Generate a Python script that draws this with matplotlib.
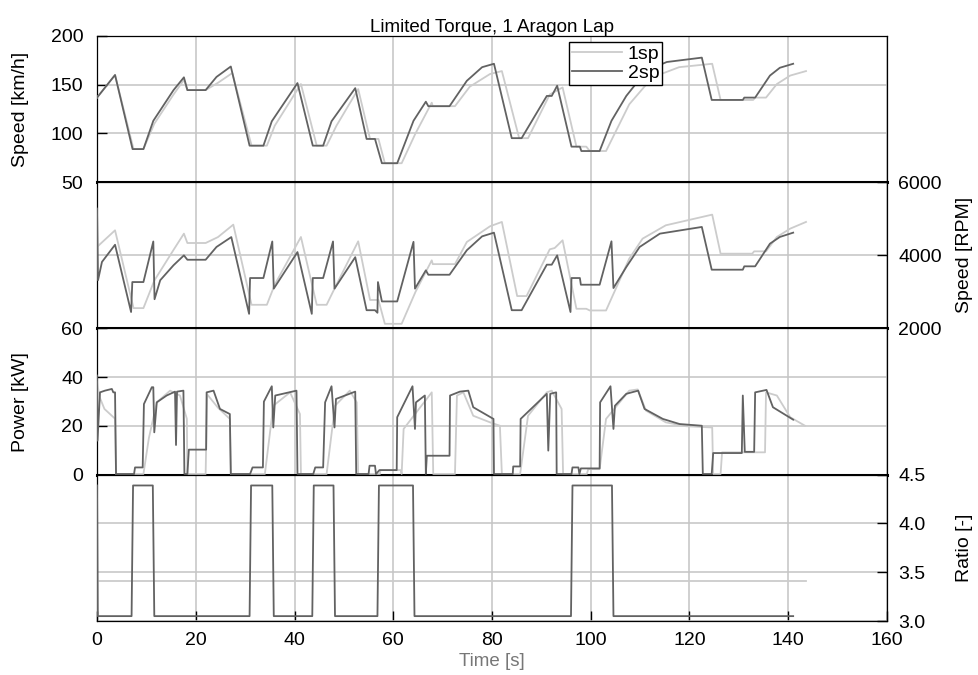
import matplotlib
matplotlib.use("Agg")
import matplotlib.pyplot as plt
import numpy as np

plt.rcParams['font.family'] = ['Liberation Sans', 'DejaVu Sans']
plt.rcParams['font.size'] = 14

# vehicle speed [km/h]
t_v1 = [0, 3.65, 7.4, 9.4, 11.6, 15.5, 17.6, 18.3, 22.0, 24.5, 27.4, 31.3, 34.4, 36.0,
        41.3, 44.5, 46.5, 48.5, 52.9, 55.3, 57.0, 58.3, 61.7, 64.5, 67.8, 68.0, 72.5,
        75.5, 79.6, 82.0, 85.5, 87.3, 91.7, 94.3, 97.1, 99.1, 99.8, 103.1, 107.8, 112.5,
        117.9, 124.6, 126.3, 132.9, 133.3, 135.5, 137.7, 140.4, 143.6]
v_1sp = [136.8, 160, 84, 84, 110, 140, 155, 144.5, 144.5, 152, 162, 87.5, 87.5, 108,
         150.7, 87.5, 87.5, 108, 145.5, 94.4, 94.4, 69.5, 69.5, 100, 131.6, 128, 128,
         148, 161, 164, 95.2, 95.2, 140, 147.2, 86.5, 86.5, 82, 82, 129.9, 157.6,
         168, 171.5, 134.4, 134.4, 136.8, 136.8, 150.7, 159.4, 164]
t_v2 = [0, 3.65, 7.2, 9.4, 11.4, 15.5, 17.6, 18.3, 22.0, 24.2, 27.1, 30.9, 33.7, 35.4,
        40.6, 43.7, 45.8, 47.5, 52.3, 54.6, 56.3, 57.7, 60.8, 64.1, 66.6, 67.1, 71.4,
        74.9, 78.0, 80.4, 84.0, 86.0, 91.1, 92.1, 93.2, 96.1, 97.8, 98.1, 101.8, 104.2,
        107.2, 111.3, 115.4, 122.5, 124.5, 130.8, 131.1, 133.3, 136.3, 138.3, 141.0]
v_2sp = [136.8, 160, 84, 84, 113, 144.5, 157.6, 144.5, 144.5, 158, 168.7, 87.5, 87.5, 112.5,
         151.7, 87.5, 87.5, 112.5, 146.5, 94.4, 94.4, 69.5, 69.5, 113, 132.6, 128, 128,
         154, 168, 171.5, 95.2, 95.2, 138.5, 138.5, 149, 86.5, 86.5, 82, 82, 113,
         138.5, 164.6, 173.3, 177.8, 134.4, 134.4, 136.8, 136.8, 159.4, 167.4, 171.5]

# motor speed [RPM]
t_n1 = [0, 3.65, 7.4, 9.4, 11.6, 15.5, 17.6, 18.3, 22.0, 24.5, 27.6, 31.3, 34.4, 36.0,
        41.3, 44.5, 46.5, 48.5, 52.9, 55.3, 57.0, 58.3, 61.7, 64.5, 67.8, 68.0, 72.5,
        74.9, 79.6, 82.0, 85.1, 87.0, 91.7, 92.7, 94.3, 97.1, 99.1, 99.8, 103.1, 107.8,
        110.5, 115.2, 124.6, 126.3, 132.7, 133.1, 135.5, 137.7, 140.4, 143.6]
n_1sp = [4230, 4685, 2557, 2557, 3310, 4150, 4594, 4338, 4338, 4500, 4840, 2648, 2648, 3200,
         4503, 2648, 2648, 3200, 4384, 2780, 2780, 2128, 2128, 3000, 3864, 3760, 3760,
         4366, 4795, 4914, 2887, 2887, 4165, 4201, 4412, 2539, 2539, 2493, 2493, 3909,
         4457, 4822, 5114, 4046, 4046, 4110, 4110, 4503, 4731, 4914]
t_n2 = [0, 0.2, 1.0, 3.65, 6.9, 7.15, 9.4, 11.4, 11.65, 12.8, 15.5, 17.6, 18.3, 22.0,
        24.2, 27.2, 30.8, 31.0, 33.7, 35.5, 35.8, 40.6, 43.5, 43.7, 45.8, 47.8, 48.1,
        52.3, 54.6, 56.3, 56.8, 56.9, 57.7, 60.8, 64.1, 64.4, 66.6, 67.1, 71.4, 74.9,
        78.0, 80.4, 84.0, 86.0, 91.1, 92.1, 93.2, 95.9, 96.1, 97.8, 98.0, 101.8, 104.2,
        104.6, 107.2, 109.9, 114.0, 122.5, 124.5, 130.8, 131.1, 133.3, 136.3, 138.3, 141.0]
n_2sp = [5280, 3320, 3820, 4290, 2450, 3270, 3270, 4380, 2800, 3320, 3730, 4000, 3880, 3880,
         4230, 4500, 2400, 3380, 3380, 4380, 3090, 4090, 2400, 3380, 3380, 4380, 3090,
         3950, 2500, 2500, 2430, 3270, 2740, 2740, 4370, 3090, 3590, 3470, 3470, 4140,
         4520, 4621, 2500, 2500, 3745, 3745, 4000, 2450, 3380, 3380, 3197, 3197, 4384,
         3106, 3681, 4229, 4594, 4777, 3608, 3608, 3700, 3700, 4320, 4503, 4621]

# motor power [kW]
t_p1 = [0, 0.5, 1.5, 3.65, 3.85, 9.4, 10.5, 12.1, 14.8, 16.8, 18.2, 18.3, 22.0, 22.3,
        24.5, 26.9, 27.1, 34.0, 35.7, 39.1, 41.1, 41.3, 46.5, 48.2, 51.2, 52.6, 52.9,
        57.3, 57.4, 61.5, 61.7, 62.1, 67.8, 68.1, 72.5, 72.9, 74.2, 76.2, 79.6, 81.6,
        82.0, 85.7, 87.3, 91.1, 92.1, 94.1, 94.4, 99.2, 99.5, 101.8, 103.1, 107.8,
        109.5, 111.2, 115.2, 119.3, 124.6, 124.8, 126.3, 126.6, 135.3, 135.5, 137.7,
        140.4, 143.4]
p_1sp = [38, 32, 27, 23, 0.3, 0.3, 15, 29.7, 34.5, 32.5, 22.9, 0.3, 0.3, 33,
         27.5, 22.9, 0.3, 0.3, 28.3, 33.8, 24.9, 0.3, 0.3, 28.3, 34.5, 29.7, 0.3,
         0.3, 1.9, 1.9, 0.3, 18.8, 33.8, 0.3, 0.3, 32.5, 33.8, 24.2, 21.5, 20.1,
         0.3, 0.3, 24.2, 33.8, 34.5, 27, 0.3, 0.3, 2.3, 2.3, 22.9, 34.5,
         35, 26.3, 21.5, 19.9, 19.4, 0.3, 0.3, 9.2, 9.2, 33.8, 32.5,
         23.6, 20.1]
t_p2 = [0, 0.1, 0.6, 1.6, 3.0, 3.3, 3.65, 3.85, 7.5, 7.7, 9.25, 9.5, 11.1, 11.4, 11.6,
        12.1, 14.1, 15.8, 16.0, 16.2, 17.5, 17.7, 18.3, 18.6, 22.1, 22.2, 23.6, 24.9,
        26.9, 27.1, 31.0, 31.5, 33.6, 33.8, 35.4, 35.7, 36.1, 40.4, 40.6, 43.8, 44.2,
        45.8, 46.2, 47.5, 48.1, 48.4, 52.3, 52.5, 55.0, 55.2, 56.3, 56.5, 57.2, 60.7,
        60.8, 63.9, 64.4, 64.6, 66.4, 66.6, 66.8, 71.4, 71.5, 73.5, 75.2, 76.2, 80.3,
        80.4, 84.2, 84.3, 85.7, 85.8, 91.1, 91.4, 91.8, 93.0, 93.1, 96.1, 96.3, 97.5,
        97.7, 98.0, 101.8, 101.9, 104.0, 104.6, 104.9, 107.2, 109.6, 110.9, 114.6,
        118.0, 122.5, 122.7, 124.5, 124.8, 130.6, 130.8, 131.2, 133.1, 133.3, 135.6,
        136.9, 141.0]
p_2sp = [40.7, 14, 33.8, 34.5, 35.2, 33.8, 33.8, 0.3, 0.3, 3.0, 3.0, 29, 35.9, 35.9, 17.4,
         29.7, 32.5, 34.1, 12.2, 34.1, 34.5, 0.3, 0.3, 10.3, 10.3, 33.8, 34.5, 27,
         24.9, 0.3, 0.3, 3.0, 3.0, 30, 36.3, 19.4, 32.5, 34.5, 0.3, 0.3, 3.0,
         3.0, 29.7, 36.3, 19.4, 31.1, 34.1, 0.3, 0.3, 3.7, 3.7, 0.3, 1.9, 1.9,
         23.6, 36.3, 18.8, 29.7, 32.5, 0.3, 7.8, 7.8, 32.5, 34.1, 34.5, 27.7, 22.9,
         0.3, 0.3, 3.4, 3.4, 22.9, 33.2, 9.9, 33.2, 33.8, 0.3, 0.3, 3.0, 3.0,
         0.3, 2.6, 2.6, 29.7, 36.3, 18.8, 28.3, 33.2, 34.5, 27, 22.9,
         20.8, 20.1, 0.3, 0.3, 8.9, 8.9, 32.5, 9.4, 9.4, 33.8, 34.8,
         27.7, 22.6]

# gear ratio [-]
t_r1 = [0, 143.6]
r_1sp = [3.41, 3.41]
t_r2 = [0, 0.15, 7.0, 7.3, 11.3, 11.6, 30.9, 31.2, 35.5, 35.8, 43.6, 43.9, 47.9, 48.2,
        56.8, 57.1, 64.0, 64.3, 96.0, 96.3, 104.3, 104.6, 141.0]
r_2sp = [4.39, 3.05, 3.05, 4.39, 4.39, 3.05, 3.05, 4.39, 4.39, 3.05, 3.05, 4.39, 4.39, 3.05,
         3.05, 4.39, 4.39, 3.05, 3.05, 4.39, 4.39, 3.05, 3.05]

c1 = '#cccccc'
c2 = '#626262'
gridc = '#c4c4c4'

fig, axs = plt.subplots(4, 1, sharex=True, figsize=(9.79, 6.75), dpi=100,
                        gridspec_kw=dict(hspace=0, left=0.0991, right=0.906,
                                         top=0.9467, bottom=0.08))

panels = [
    (t_v1, v_1sp, t_v2, v_2sp, (50, 200), [50, 100, 150, 200], None, 'Speed [km/h]', 'left'),
    (t_n1, n_1sp, t_n2, n_2sp, (2000, 6000), [2000, 4000, 6000], None, 'Speed [RPM]', 'right'),
    (t_p1, p_1sp, t_p2, p_2sp, (0, 60), [0, 20, 40, 60], None, 'Power [kW]', 'left'),
    (t_r1, r_1sp, t_r2, r_2sp, (3.0, 4.5), [3.0, 3.5, 4.0, 4.5], ['3.0', '3.5', '4.0', '4.5'],
     'Ratio [-]', 'right'),
]

for i, (ax, p) in enumerate(zip(axs, panels)):
    ta, ya, tb, yb, ylim, yt, ytl, lab, side = p
    ax.plot(ta, ya, color=c1, lw=1.3, label='1sp', zorder=3)
    ax.plot(tb, yb, color=c2, lw=1.3, label='2sp', zorder=4)
    ax.set_ylim(*ylim)
    ax.set_yticks(yt)
    if ytl:
        ax.set_yticklabels(ytl)
    ax.set_xlim(0, 160)
    ax.set_xticks(range(0, 161, 20))
    ax.grid(True, color=gridc, lw=1.1)
    ax.set_axisbelow(True)
    ax.tick_params(direction='in', length=7, width=1, labelsize=14)
    ax.tick_params(axis='x', pad=8)
    if side == 'right':
        ax.yaxis.tick_right()
        ax.yaxis.set_label_position('right')
        ax.tick_params(axis='y', pad=8)
        ax.yaxis.set_label_coords(1.088, 0.5)
    else:
        ax.tick_params(axis='y', pad=10)
        ax.yaxis.set_label_coords(-0.086, 0.5)
    ax.set_ylabel(lab, fontsize=14)
    for s in ax.spines.values():
        s.set_color('black')
        s.set_linewidth(0.9)
    if i < 3:
        ax.spines['bottom'].set_linewidth(2.2)
        ax.tick_params(axis='x', bottom=False)

axs[0].set_title('Limited Torque, 1 Aragon Lap', fontsize=13.5, pad=3)
axs[3].set_xlabel('Time [s]', color='#777777', fontsize=13.5, labelpad=3)
axs[0].legend(loc='upper left', bbox_to_anchor=(0.597, 0.958), fancybox=False,
              edgecolor='black', framealpha=1, borderaxespad=0, fontsize=14,
              handlelength=2.6, borderpad=0.15, labelspacing=0.1, handletextpad=0.3)

fig.savefig('out.png', dpi=100)
